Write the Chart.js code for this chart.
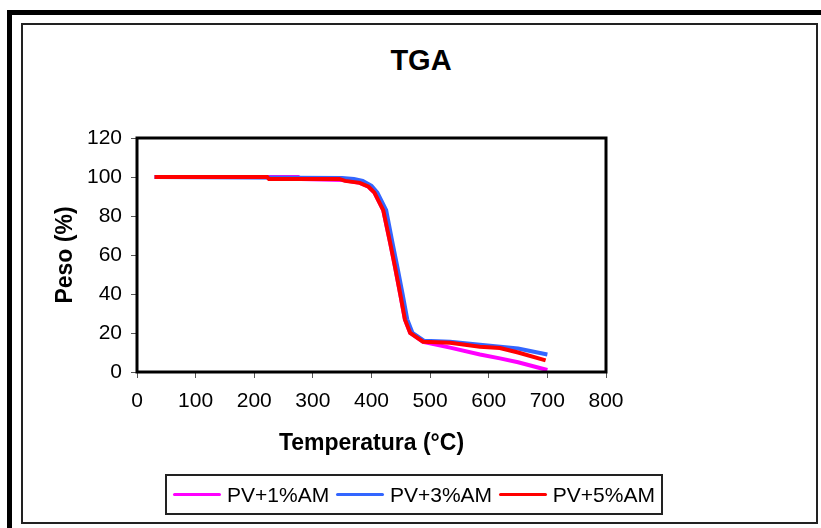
<!DOCTYPE html>
<html>
<head>
<meta charset="utf-8">
<script src="https://cdn.jsdelivr.net/npm/chart.js@4.4.1/dist/chart.umd.min.js"></script>
<style>
    html, body { margin: 0; padding: 0; background: #fff; }
    body { width: 821px; height: 528px; position: relative; overflow: hidden; font-family: "Liberation Sans", Arial, sans-serif; }
    #outerFrame { position: absolute; left: 7px; top: 10px; width: 900px; height: 600px; border-left: 5px solid #000; border-top: 5px solid #000; }
    #innerFrame { position: absolute; left: 21px; top: 23px; width: 793px; height: 497px; border: 2px solid #222; }
    #chartCanvas { position: absolute; left: 0; top: 0; }
    #title { position: absolute; left: 21px; width: 800px; top: 43px; text-align: center; font-weight: bold; font-size: 29px; line-height: 34px; color: #000; }
    #legend { position: absolute; left: 165px; top: 474px; width: 482px; height: 37px; padding: 0 6px; border: 2px solid #222; display: flex; align-items: center; justify-content: space-between; font-size: 21px; color: #000; }
    .item { display: flex; align-items: center; }
    .swatch { width: 48px; height: 3px; border-radius: 2px; margin-right: 6px; }
</style>
</head>
<body>
<div id="outerFrame"></div>
<div id="innerFrame"></div>
<div id="title">TGA</div>
<canvas id="chartCanvas" width="821" height="528"></canvas>
<div id="legend"></div>
<script>
// Temperature (°C) / weight (%)
const tempsPV1 = [30, 275, 280, 350, 380, 395, 405, 420, 432, 440, 449, 457, 466, 488, 534, 585, 619, 650, 700];
const pesoPV1 = [100, 100, 99, 98.5, 97, 95, 92, 83, 66, 54, 40, 27, 20, 15.5, 12.5, 9, 7, 5, 1];

const tempsPV3 = [30, 350, 370, 385, 400, 410, 425, 436, 444, 453, 461, 470, 490, 534, 585, 650, 700];
const pesoPV3 = [100, 99.5, 99, 98, 95.5, 92, 83, 66, 54, 40, 27, 20, 16, 15.5, 14, 12, 9];

const tempsPV5 = [30, 222, 225, 345, 355, 380, 395, 405, 420, 432, 440, 449, 457, 466, 488, 534, 585, 619, 650, 697];
const pesoPV5 = [100, 100, 99, 99, 98, 97, 95, 92, 83, 66, 54, 40, 27, 20, 15.5, 15, 13, 12.3, 10, 6];

const seriesLabels = ['PV+1%AM', 'PV+3%AM', 'PV+5%AM'];
const seriesColors = ['#FF00FF', '#3366FF', '#FF0000'];

const xTicks = [0, 100, 200, 300, 400, 500, 600, 700, 800];
const yTicks = [0, 20, 40, 60, 80, 100, 120];

function toPoints(xs, ys) {
    return xs.map((x, i) => ({ x: x, y: ys[i] }));
}

// black frame around the plot area
const plotBorder = {
    id: 'plotBorder',
    afterDatasetsDraw(chart) {
        const { ctx, chartArea } = chart;
        ctx.save();
        ctx.strokeStyle = '#000';
        ctx.lineWidth = 3;
        ctx.strokeRect(chartArea.left, chartArea.top, chartArea.right - chartArea.left, chartArea.bottom - chartArea.top);
        ctx.restore();
    }
};

const lineStyle = { borderWidth: 4, pointRadius: 0, tension: 0, fill: false };

// dataset 0 is drawn on top, so red goes first
const datasets = [
    { label: seriesLabels[2], data: toPoints(tempsPV5, pesoPV5), borderColor: seriesColors[2], ...lineStyle },
    { label: seriesLabels[1], data: toPoints(tempsPV3, pesoPV3), borderColor: seriesColors[1], ...lineStyle },
    { label: seriesLabels[0], data: toPoints(tempsPV1, pesoPV1), borderColor: seriesColors[0], ...lineStyle }
];

Chart.defaults.font.family = '"Liberation Sans", Arial, sans-serif';
Chart.defaults.color = '#000';

new Chart(document.getElementById('chartCanvas'), {
    type: 'line',
    data: { datasets: datasets },
    plugins: [plotBorder],
    options: {
        responsive: false,
        animation: false,
        layout: { padding: { left: 40, right: 215, top: 138, bottom: 71 } },
        plugins: { legend: { display: false }, title: { display: false }, tooltip: { enabled: false } },
        scales: {
            x: {
                type: 'linear',
                min: 0,
                max: 800,
                afterBuildTicks: axis => { axis.ticks = xTicks.map(v => ({ value: v })); },
                afterFit: axis => { axis.height = 85; },
                grid: { display: true, drawOnChartArea: false, drawTicks: true, tickLength: 6, color: '#555' },
                border: { display: false },
                ticks: { font: { size: 21 }, padding: 11, maxRotation: 0 },
                title: { display: true, text: 'Temperatura (°C)', font: { size: 23, weight: 'bold' }, padding: { top: 0, bottom: 0 } }
            },
            y: {
                min: 0,
                max: 120,
                afterBuildTicks: axis => { axis.ticks = yTicks.map(v => ({ value: v })); },
                afterFit: axis => { axis.width = 97; },
                grid: { display: true, drawOnChartArea: false, drawTicks: true, tickLength: 6, color: '#555' },
                border: { display: false },
                ticks: { font: { size: 21 }, padding: 9 },
                title: { display: true, text: 'Peso (%)', font: { size: 23, weight: 'bold' }, padding: { top: 12, bottom: 0 } }
            }
        }
    }
});

// legend in original order
const legendEl = document.getElementById('legend');
seriesLabels.forEach((label, i) => {
    const item = document.createElement('div');
    item.className = 'item';
    item.innerHTML = `<span class="swatch" style="background:${seriesColors[i]}"></span><span>${label}</span>`;
    legendEl.appendChild(item);
});
</script>
</body>
</html>
